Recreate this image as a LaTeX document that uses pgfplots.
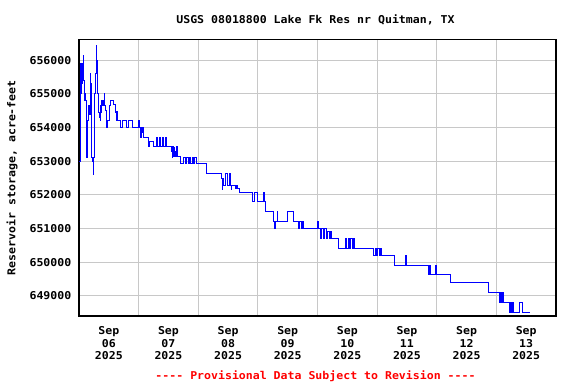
\documentclass[border=0pt]{standalone}
\usepackage{fontspec}
\setmonofont{DejaVu Sans Mono}[FakeStretch=1.07]
\usepackage{pgfplots}
\pgfplotsset{compat=1.18}
\definecolor{gridgray}{RGB}{200,200,200}
\definecolor{usgsred}{RGB}{255,0,0}
\newcommand\f{\ttfamily\bfseries\fontsize{10.8bp}{12.8bp}\selectfont}
\begin{document}
\begin{tikzpicture}
\useasboundingbox (0,0) rectangle (576bp,384bp);
\begin{axis}[
  at={(79bp,68bp)}, anchor=south west,
  scale only axis, width=477bp, height=276.7bp,
  xmin=0, xmax=8, ymin=648400, ymax=656620,
  axis line style={black, line width=1.3bp},
  xtick={0.5,1.5,2.5,3.5,4.5,5.5,6.5,7.5},
  xticklabels={{Sep\\06\\2025},{Sep\\07\\2025},{Sep\\08\\2025},{Sep\\09\\2025},{Sep\\10\\2025},{Sep\\11\\2025},{Sep\\12\\2025},{Sep\\13\\2025}},
  minor xtick={1,2,3,4,5,6,7},
  xmajorgrids=false, xminorgrids=true, ymajorgrids=true,
  grid style={gridgray, line width=1bp},
  minor grid style={gridgray, line width=1bp},
  major tick length=0pt, minor tick length=0pt,
  scaled y ticks=false,
  ytick={649000,650000,651000,652000,653000,654000,655000,656000},
  yticklabels={649000,650000,651000,652000,653000,654000,655000,656000},
  /pgf/number format/assume math mode=true,
  xticklabel style={font=\f, align=center, anchor=north, inner sep=0pt, yshift=-10bp},
  yticklabel style={font=\f, anchor=east, inner sep=0pt, xshift=-7.5bp},
  title={USGS 08018800 Lake Fk Res nr Quitman, TX},
  title style={font=\f, at={(0.5,1)}, anchor=base, inner sep=0pt, yshift=10bp, xshift=-2bp},
  ylabel={Reservoir storage, acre-feet},
  ylabel style={font=\f, at={(axis description cs:0,0.5)}, anchor=base, inner sep=0pt, yshift=63.5bp},
  clip=true,
]
\addplot[blue, line width=0.9bp, const plot, mark=none] coordinates {
(0.000,653000)(0.016,655800)(0.024,655200)(0.032,655900)(0.040,655000)
(0.048,655800)(0.056,655300)(0.064,655900)
(0.072,656130)(0.080,655400)(0.088,655000)(0.096,654800)(0.104,655000)
(0.114,654800)(0.122,653800)(0.128,653100)(0.134,653800)(0.140,653300)
(0.148,654200)(0.165,654660)(0.178,654400)(0.186,655600)(0.196,655300)
(0.206,654660)(0.216,653100)(0.226,653000)(0.234,652600)(0.246,653100)
(0.254,654200)(0.264,655000)(0.276,655600)(0.286,656430)(0.298,656000)
(0.306,655450)(0.316,655000)(0.326,654460)(0.340,654300)(0.352,654210)
(0.362,654660)(0.374,654460)(0.384,654800)(0.400,654660)(0.412,654800)
(0.420,655000)(0.428,654660)(0.438,654510)(0.456,654210)(0.466,654010)
(0.480,654210)(0.514,654660)(0.524,654800)(0.586,654680)(0.608,654460)
(0.626,654210)(0.636,654480)(0.646,654210)(0.693,654010)(0.721,654210)
(0.804,654010)(0.832,654210)(0.899,654010)(0.998,654210)(1.008,654010)
(1.030,653690)(1.040,654010)(1.050,653850)(1.060,654010)(1.073,653850)
(1.084,653690)(1.160,653430)(1.188,653600)(1.244,653430)
(1.300,653700)(1.322,653430)(1.344,653700)(1.366,653430)(1.400,653700)
(1.422,653430)(1.444,653700)(1.466,653430)
(1.552,653300)(1.562,653100)(1.572,653430)(1.582,653130)(1.592,653400)
(1.602,653130)(1.612,653300)(1.622,653130)(1.634,653430)(1.646,653130)
(1.703,652930)(1.759,653100)(1.782,652930)(1.805,653100)(1.828,652930)
(1.851,653100)(1.874,652930)(1.897,653100)(1.920,652930)(1.943,653100)
(1.966,652930)
(2.130,652630)(2.395,652480)(2.403,652150)(2.410,652480)(2.431,652280)
(2.459,652630)(2.487,652280)(2.515,652630)(2.543,652280)(2.550,652150)
(2.557,652280)(2.616,652180)(2.638,652280)(2.660,652180)
(2.683,652080)(2.906,651800)(2.944,652080)(3.000,651800)
(3.100,652080)(3.108,651800)(3.128,651500)(3.262,651200)(3.270,651000)
(3.280,651200)(3.290,651000)(3.298,651200)(3.322,651500)(3.336,651200)
(3.496,651500)(3.592,651200)(3.683,651000)(3.705,651200)(3.727,651000)
(3.749,651200)(3.767,651000)(4.000,651200)(4.012,651000)(4.045,650700)
(4.070,651000)(4.095,650700)(4.120,651000)(4.145,650700)(4.170,650900)
(4.195,650700)(4.220,650900)(4.235,650700)(4.355,650400)
(4.468,650700)(4.490,650400)(4.512,650700)(4.534,650400)(4.556,650700)
(4.578,650400)(4.600,650700)(4.622,650400)
(4.946,650200)(4.968,650400)(4.990,650200)(5.012,650400)(5.034,650200)
(5.056,650400)(5.078,650200)(5.285,649900)(5.482,650200)
(5.496,649900)(5.864,649630)(5.880,649900)(5.900,649630)(5.975,649900)
(5.990,649630)(6.236,649400)(6.870,649100)(7.055,648800)(7.070,649100)
(7.085,648800)(7.100,649100)(7.115,648800)
(7.220,648500)(7.232,648800)(7.247,648500)(7.275,648800)(7.285,648500)
(7.390,648800)(7.430,648500)(7.566,648500)
};
\end{axis}
\node[font=\f, text=usgsred, anchor=base, inner sep=0pt] at (315.5bp,5bp) {---- Provisional Data Subject to Revision ----};
\end{tikzpicture}
\end{document}
